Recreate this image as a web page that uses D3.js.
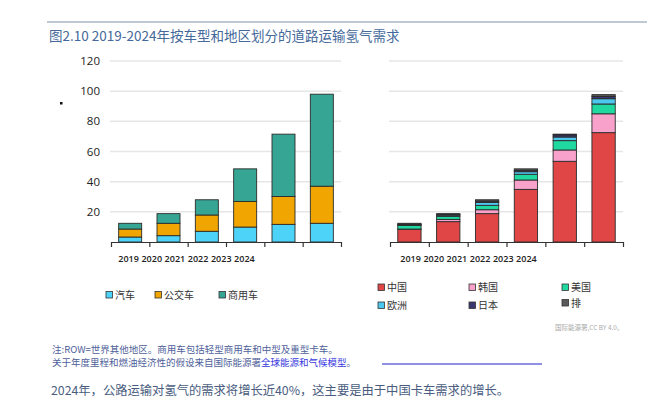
<!DOCTYPE html>
<html>
<head>
<meta charset="utf-8">
<script src="https://cdn.jsdelivr.net/npm/d3@7"></script>
<style>
  body { margin: 0; background: #fff; }
  svg { display: block; font-family: 'Noto Sans CJK SC', 'Noto Sans', sans-serif; }
</style>
</head>
<body>
<svg id="chart" width="670" height="410"></svg>
<script>
// 年份（x 轴标签）
const years = ['2019', '2020', '2021', '2022', '2023', '2024'];
const yTicks = [20, 40, 60, 80, 100, 120];

// 按车型 (left)
const vehicleKeys = ['汽车', '公交车', '商用车'];
const car = [3.3, 4.2, 7.1, 9.9, 11.7, 12.4];
const bus = [5.3, 8.2, 10.8, 17.0, 18.5, 24.6];
const commercial = [3.8, 6.4, 10.1, 21.6, 41.3, 61.0];

// 按地区 (right)
const regionKeys = ['中国', '韩国', '美国', '欧洲', '日本', '排'];
const china = [8.4, 13.5, 18.8, 34.9, 53.5, 72.5];
const korea = [0.2, 1.5, 2.6, 6.2, 7.5, 12.5];
const usa = [2.4, 2.0, 2.9, 3.8, 6.2, 6.5];
const europe = [0.4, 0.8, 2.0, 1.7, 2.4, 3.5];
const japan = [0.3, 0.5, 0.8, 0.9, 1.4, 1.5];
const rowRegion = [0.7, 0.5, 0.9, 1.0, 0.5, 1.2];

const vehicleColors = ['#4dd3f7', '#f0a500', '#36a593'];
const regionColors = ['#e04646', '#f7a1cb', '#20d9a0', '#4cc8ef', '#3b3770', '#5a5a5a'];

const svg = d3.select('#chart');

const yScale = d3.scaleLinear()
  .domain([0, 120])
  .range([242, 61]);

// header rule + title
svg.append('line')
  .attr('x1', 47).attr('x2', 647)
  .attr('y1', 22).attr('y2', 22)
  .attr('stroke', '#7f93ab')
  .attr('stroke-width', 1.2);

svg.append('text')
  .attr('x', 49)
  .attr('y', 41)
  .attr('fill', '#44699a')
  .style('font-size', '13.5px')
  .text('图2.10 2019-2024年按车型和地区划分的道路运输氢气需求');

// stray marker dot
svg.append('rect')
  .attr('x', 60).attr('y', 102)
  .attr('width', 2.5).attr('height', 2.5)
  .attr('fill', '#111');

// y labels (left panel only)
svg.append('g')
  .selectAll('text')
  .data(yTicks)
  .enter().append('text')
  .attr('x', 100)
  .attr('y', d => yScale(d))
  .attr('dy', '0.35em')
  .attr('text-anchor', 'end')
  .attr('fill', '#222')
  .style('font-family', "'Open Sans', sans-serif")
  .style('font-size', '11.5px')
  .text(d => d);

function drawPanel(x0, x1, labelX0, labelX1, keys, series, colors) {
  const data = years.map((y, i) => {
    const row = { year: y };
    keys.forEach((k, j) => { row[k] = series[j][i]; });
    return row;
  });

  const xScale = d3.scaleBand()
    .domain(years)
    .range([x0, x1])
    .paddingInner(0.4)
    .paddingOuter(0.2);

  const g = svg.append('g');

  g.append('g')
    .selectAll('line')
    .data(yTicks)
    .enter().append('line')
    .attr('x1', x0 - 1).attr('x2', x1)
    .attr('y1', d => yScale(d)).attr('y2', d => yScale(d))
    .attr('stroke', '#e6e6e6')
    .attr('stroke-width', 1.5);

  const stacked = d3.stack().keys(keys)(data);

  g.selectAll('g.layer')
    .data(stacked)
    .enter().append('g')
    .attr('class', 'layer')
    .attr('fill', (d, i) => colors[i])
    .selectAll('rect')
    .data(d => d)
    .enter().append('rect')
    .attr('x', d => xScale(d.data.year))
    .attr('width', xScale.bandwidth())
    .attr('y', d => yScale(d[1]))
    .attr('height', d => yScale(d[0]) - yScale(d[1]))
    .attr('stroke', '#2b2b2b')
    .attr('stroke-width', 0.9);

  // axis with ticks between categories
  const edgeScale = d3.scaleLinear().domain([0, years.length]).range([x0, x1]);
  g.append('g')
    .attr('transform', `translate(0, ${yScale(0)})`)
    .call(d3.axisBottom(edgeScale)
      .tickValues(d3.range(1, years.length))
      .tickFormat('')
      .tickSizeInner(5)
      .tickSizeOuter(5))
    .call(a => a.selectAll('path, line').attr('stroke', '#333').attr('stroke-width', 1.2));

  // year labels, bunched under the first half as in the source
  const labelScale = d3.scaleBand().domain(years).range([labelX0, labelX1]);
  g.append('g')
    .selectAll('text')
    .data(years)
    .enter().append('text')
    .attr('x', d => labelScale(d) + labelScale.bandwidth() / 2)
    .attr('y', 262)
    .attr('text-anchor', 'middle')
    .attr('fill', '#222')
    .style('font-family', "'Open Sans', sans-serif")
    .style('font-size', '9px')
    .style('font-weight', '600')
    .text(d => d);
}

drawPanel(111, 341, 117, 256, vehicleKeys, [car, bus, commercial], vehicleColors);
drawPanel(390, 623, 399, 538, regionKeys, [china, korea, usa, europe, japan, rowRegion], regionColors);

// legends
function legend(items, colors, xs, ys) {
  const g = svg.append('g');
  const it = g.selectAll('g')
    .data(items)
    .enter().append('g')
    .attr('transform', (d, i) => `translate(${xs[i]}, ${ys[i]})`);
  it.append('rect')
    .attr('x', 0).attr('y', -3.5)
    .attr('width', 6.5).attr('height', 6.5)
    .attr('fill', (d, i) => colors[i])
    .attr('stroke', '#333')
    .attr('stroke-width', 0.8);
  it.append('text')
    .attr('x', 9)
    .attr('dy', '0.35em')
    .attr('fill', '#333')
    .style('font-size', '10px')
    .text(d => d);
}

legend(vehicleKeys, vehicleColors, [106, 155, 219], [295, 295, 295]);
legend(regionKeys, regionColors,
  [378, 469, 562, 378, 469, 562],
  [287.5, 287.5, 287.5, 305.5, 305.5, 303]);

svg.append('text')
  .attr('x', 555)
  .attr('y', 330)
  .attr('fill', '#aaa')
  .style('font-size', '6.5px')
  .text('国际能源署,CC BY 4.0。');

// notes
svg.append('text')
  .attr('x', 52)
  .attr('y', 353)
  .attr('fill', '#4f5f9a')
  .style('font-size', '9.5px')
  .text('注:ROW=世界其他地区。商用车包括轻型商用车和中型及重型卡车。');

const note2 = svg.append('text')
  .attr('x', 52)
  .attr('y', 365.5)
  .attr('fill', '#4f5f9a')
  .style('font-size', '9.5px');
note2.append('tspan').text('关于年度里程和燃油经济性的假设来自国际能源署');
note2.append('tspan').attr('fill', '#3838e0').text('全球能源和气候模型');
note2.append('tspan').text('。');

svg.append('line')
  .attr('x1', 382).attr('x2', 542)
  .attr('y1', 364).attr('y2', 364)
  .attr('stroke', '#6b6bdb')
  .attr('stroke-width', 1.3);

svg.append('text')
  .attr('x', 51)
  .attr('y', 395)
  .attr('fill', '#4a5d80')
  .style('font-size', '12.3px')
  .text('2024年，公路运输对氢气的需求将增长近40%，这主要是由于中国卡车需求的增长。');
</script>
</body>
</html>
